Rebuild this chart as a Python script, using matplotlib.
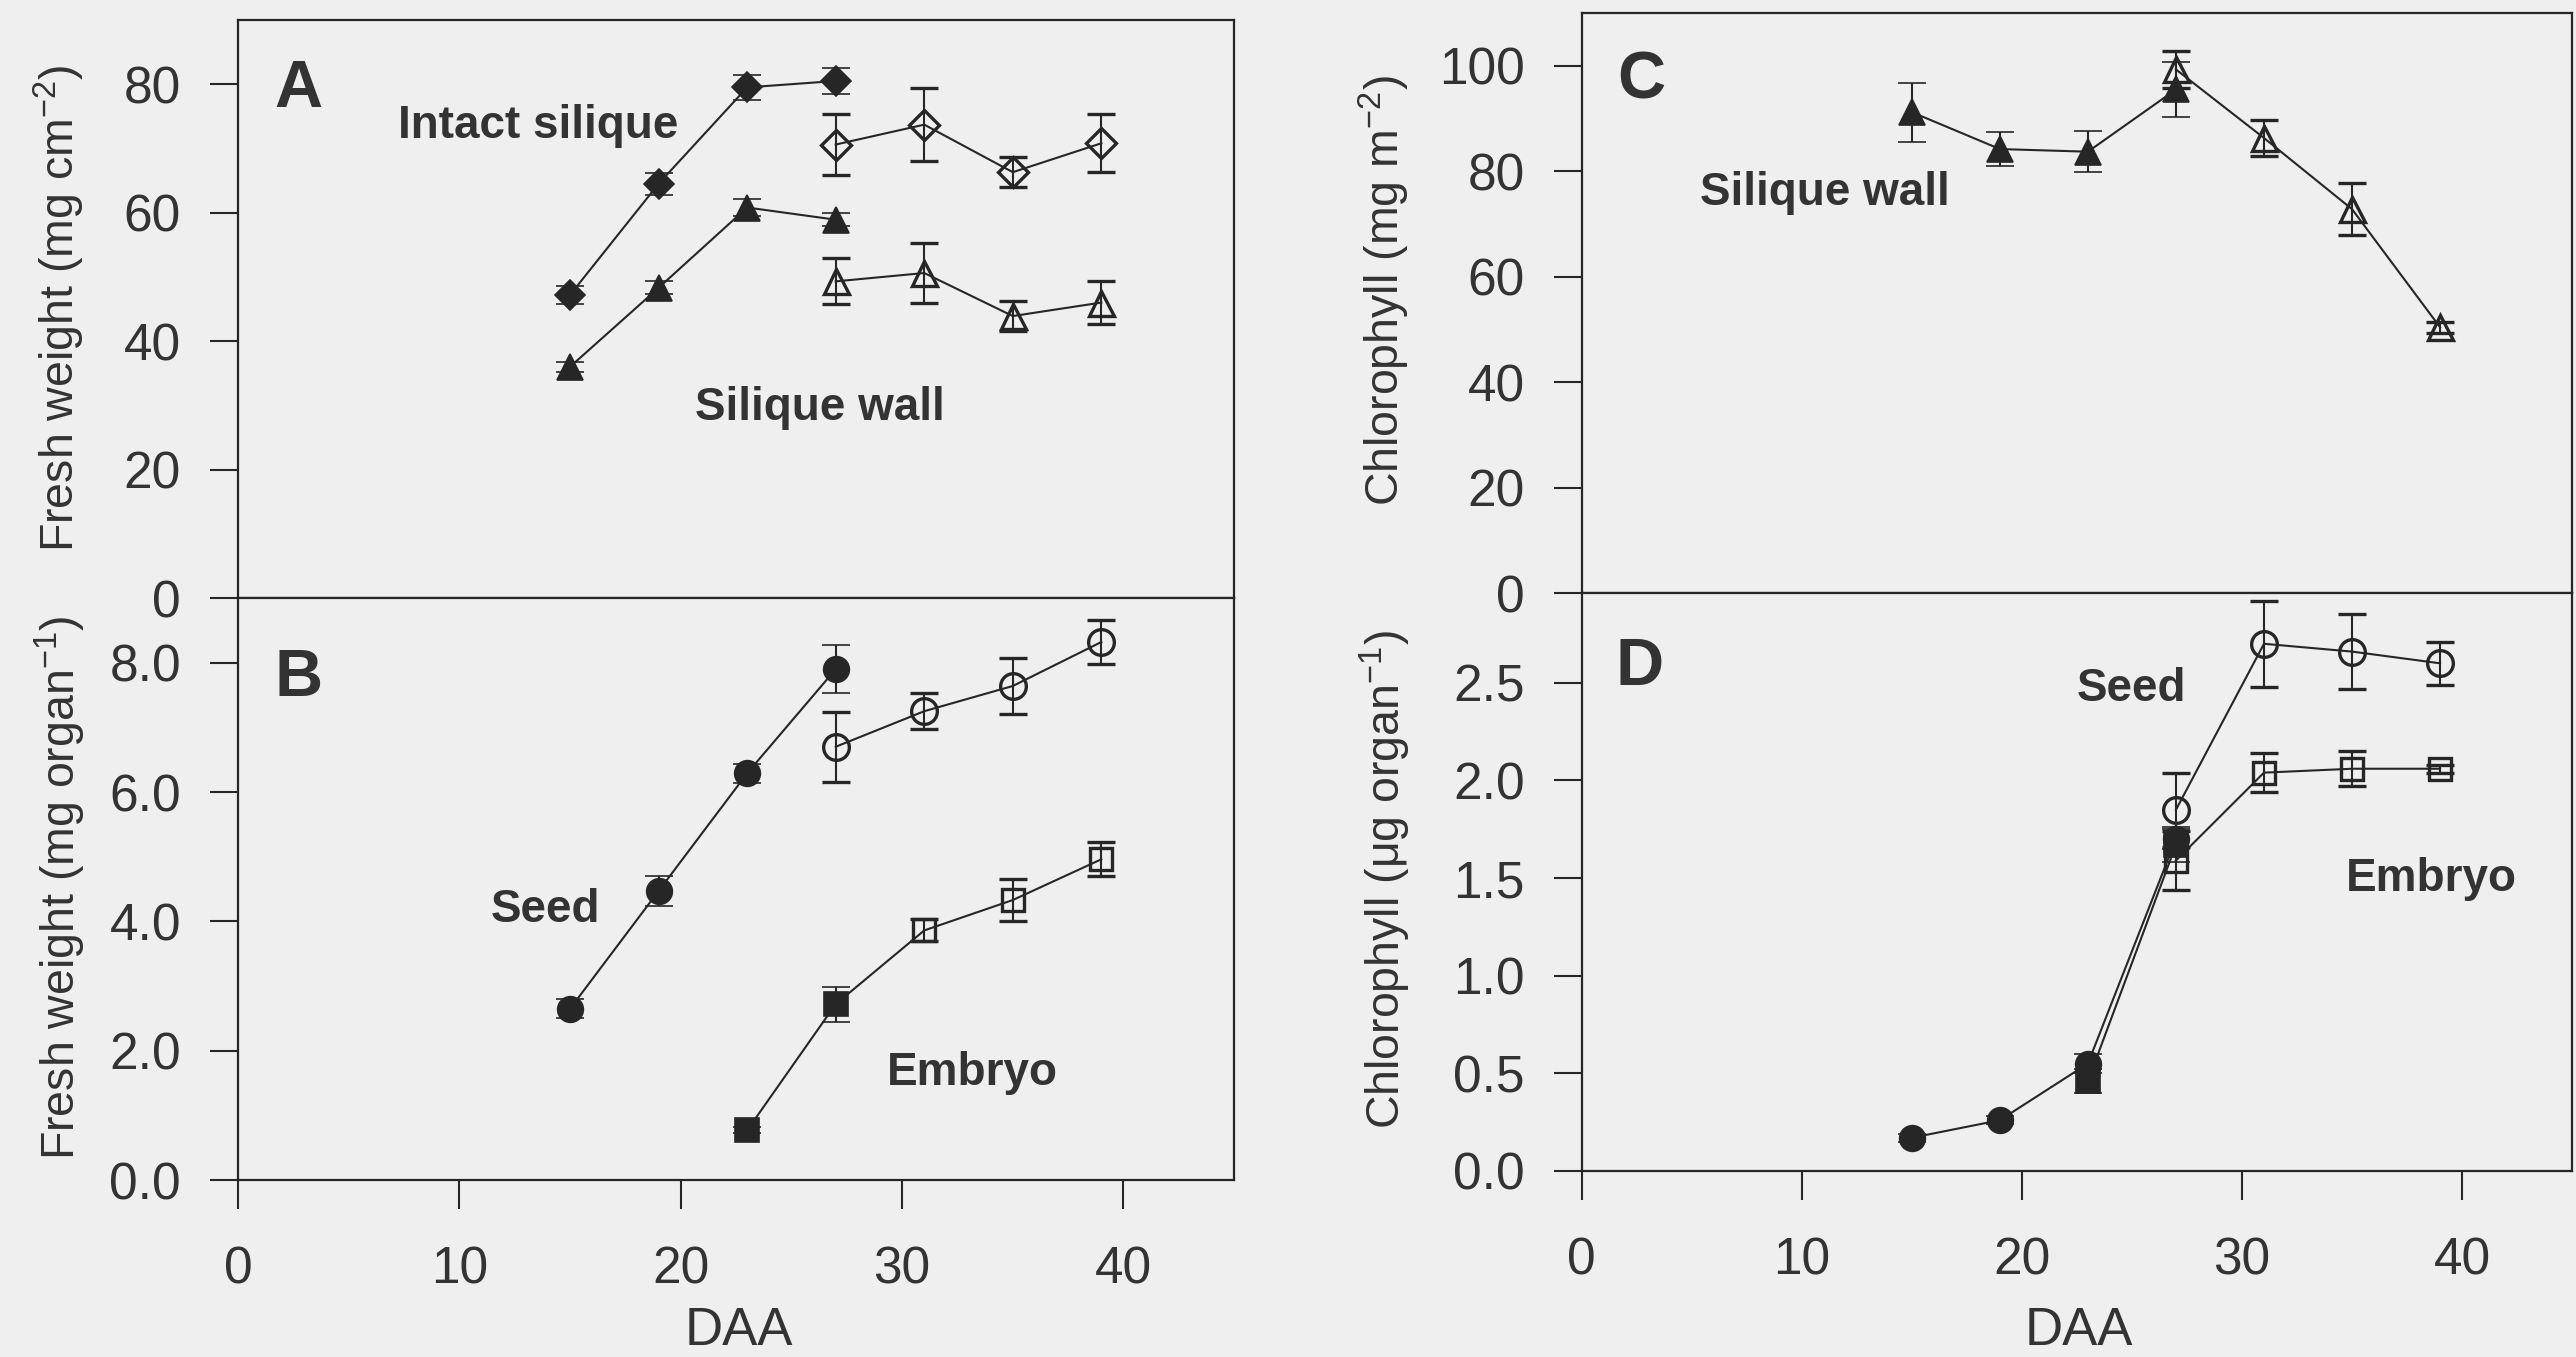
import matplotlib
matplotlib.use('Agg')
import matplotlib.pyplot as plt

plt.rcParams['font.family'] = ['Liberation Sans', 'DejaVu Sans']
plt.rcParams['mathtext.fontset'] = 'custom'
plt.rcParams['mathtext.rm'] = 'Liberation Sans'
plt.rcParams['mathtext.it'] = 'Liberation Sans:italic'
plt.rcParams['mathtext.bf'] = 'Liberation Sans:bold'

BG = '#efefef'
INK = '#262626'
TXT = '#333333'

# ---------------- data ----------------
# Panel A: fresh weight (mg cm-2)
a_int_fill_x = [15, 19, 23, 27]
a_int_fill_y = [47.2, 64.5, 79.5, 80.5]
a_int_fill_e = [1.4, 1.7, 2.0, 2.0]
a_int_open_x = [27, 31, 35, 39]
a_int_open_y = [70.6, 73.7, 66.3, 70.8]
a_int_open_e = [4.7, 5.7, 2.3, 4.5]
a_wall_fill_x = [15, 19, 23, 27]
a_wall_fill_y = [36.0, 48.3, 60.8, 58.9]
a_wall_fill_e = [0.8, 1.0, 1.3, 1.0]
a_wall_open_x = [27, 31, 35, 39]
a_wall_open_y = [49.3, 50.6, 43.9, 46.0]
a_wall_open_e = [3.6, 4.6, 2.3, 3.3]

# Panel B: fresh weight (mg organ-1)
b_seed_fill_x = [15, 19, 23, 27]
b_seed_fill_y = [2.65, 4.47, 6.29, 7.90]
b_seed_fill_e = [0.15, 0.23, 0.15, 0.37]
b_seed_open_x = [27, 31, 35, 39]
b_seed_open_y = [6.70, 7.25, 7.64, 8.32]
b_seed_open_e = [0.54, 0.28, 0.43, 0.34]
b_emb_fill_x = [23, 27]
b_emb_fill_y = [0.77, 2.72]
b_emb_fill_e = [0.05, 0.27]
b_emb_open_x = [31, 35, 39]
b_emb_open_y = [3.86, 4.33, 4.96]
b_emb_open_e = [0.17, 0.33, 0.26]

# Panel C: chlorophyll (mg m-2), silique wall
c_fill_x = [15, 19, 23, 27]
c_fill_y = [91.2, 84.2, 83.7, 95.5]
c_fill_e = [5.6, 3.3, 3.9, 5.3]
c_open_x = [27, 31, 35, 39]
c_open_y = [99.3, 86.3, 72.8, 50.4]
c_open_e = [3.5, 3.4, 4.9, 1.0]

# Panel D: chlorophyll (ug organ-1)
d_seed_fill_x = [15, 19, 23, 27]
d_seed_fill_y = [0.17, 0.26, 0.55, 1.70]
d_seed_fill_e = [0.02, 0.02, 0.05, 0.05]
d_seed_open_x = [27, 31, 35, 39]
d_seed_open_y = [1.85, 2.70, 2.66, 2.60]
d_seed_open_e = [0.19, 0.22, 0.19, 0.11]
d_emb_fill_x = [23, 27]
d_emb_fill_y = [0.46, 1.67]
d_emb_fill_e = [0.06, 0.09]
d_emb_open_x = [27, 31, 35, 39]
d_emb_open_y = [1.59, 2.04, 2.06, 2.06]
d_emb_open_e = [0.15, 0.10, 0.09, 0.02]

x_ticks = [0, 10, 20, 30, 40]
x_ticklabels = ['0', '10', '20', '30', '40']
a_yticks = [0, 20, 40, 60, 80]
a_yticklabels = ['0', '20', '40', '60', '80']
b_yticks = [0, 2, 4, 6, 8]
b_yticklabels = ['0.0', '2.0', '4.0', '6.0', '8.0']
c_yticks = [0, 20, 40, 60, 80, 100]
c_yticklabels = ['0', '20', '40', '60', '80', '100']
d_yticks = [0, 0.5, 1.0, 1.5, 2.0, 2.5]
d_yticklabels = ['0.0', '0.5', '1.0', '1.5', '2.0', '2.5']

# ---------------- figure ----------------
fig = plt.figure(figsize=(25.76, 13.57), dpi=100, facecolor=BG)

axA = fig.add_axes([0.0924, 0.5593, 0.3867, 0.4260])
axB = fig.add_axes([0.0924, 0.1304, 0.3867, 0.4289])
axC = fig.add_axes([0.6140, 0.5630, 0.3845, 0.4274])
axD = fig.add_axes([0.6140, 0.1371, 0.3845, 0.4259])

TICK_FS = 37


def style(ax, ylim, yticks, yticklabels, show_x):
    ax.set_facecolor(BG)
    ax.set_xlim(0, 45)
    ax.set_ylim(*ylim)
    for s in ax.spines.values():
        s.set_linewidth(1.6)
        s.set_color(INK)
    ax.set_yticks(yticks)
    ax.set_yticklabels(yticklabels)
    ax.tick_params(axis='y', direction='out', length=20, width=1.5,
                   color=INK, pad=21, labelsize=TICK_FS, labelcolor=TXT)
    ax.set_xticks(x_ticks)
    if show_x:
        ax.set_xticklabels(x_ticklabels)
        ax.tick_params(axis='x', direction='out', length=21, width=1.5,
                       color=INK, pad=26, labelsize=TICK_FS, labelcolor=TXT)
    else:
        ax.tick_params(axis='x', bottom=False, labelbottom=False)


style(axA, (0, 90), a_yticks, a_yticklabels, False)
style(axB, (0, 9), b_yticks, b_yticklabels, True)
style(axC, (0, 110), c_yticks, c_yticklabels, False)
style(axD, (0, 2.96), d_yticks, d_yticklabels, True)


def series(ax, x, y, e, marker, filled, ms, line=True):
    ax.errorbar(x, y, yerr=e, fmt=marker + ('-' if line else ''),
                color=INK, lw=1.5, ms=ms,
                mfc=INK if filled else 'none', mec=INK,
                mew=1.2 if filled else 2.4,
                elinewidth=1.5, capsize=10, capthick=1.6, zorder=3)


# Panel A
series(axA, a_int_fill_x, a_int_fill_y, a_int_fill_e, 'D', True, 15.5)
series(axA, a_int_open_x, a_int_open_y, a_int_open_e, 'D', False, 15)
series(axA, a_wall_fill_x, a_wall_fill_y, a_wall_fill_e, '^', True, 19)
series(axA, a_wall_open_x, a_wall_open_y, a_wall_open_e, '^', False, 18)

# Panel B
series(axB, b_seed_fill_x, b_seed_fill_y, b_seed_fill_e, 'o', True, 18.5)
series(axB, b_seed_open_x, b_seed_open_y, b_seed_open_e, 'o', False, 18.5)
axB.plot(b_emb_fill_x + b_emb_open_x, b_emb_fill_y + b_emb_open_y,
         '-', color=INK, lw=1.5, zorder=2)
series(axB, b_emb_fill_x, b_emb_fill_y, b_emb_fill_e, 's', True, 17, line=False)
series(axB, b_emb_open_x, b_emb_open_y, b_emb_open_e, 's', False, 16, line=False)

# Panel C
series(axC, c_fill_x, c_fill_y, c_fill_e, '^', True, 19)
series(axC, c_open_x, c_open_y, c_open_e, '^', False, 18)

# Panel D
series(axD, d_seed_fill_x, d_seed_fill_y, d_seed_fill_e, 'o', True, 18.5)
series(axD, d_emb_fill_x, d_emb_fill_y, d_emb_fill_e, 's', True, 17)
series(axD, d_seed_open_x, d_seed_open_y, d_seed_open_e, 'o', False, 18.5)
series(axD, d_emb_open_x, d_emb_open_y, d_emb_open_e, 's', False, 15.5)

# Panel letters and annotations
LET_FS = 48
ANN_FS = 33
for ax, lab, px, py in [(axA, 'A', 0.036, 0.850), (axB, 'B', 0.037, 0.832),
                        (axC, 'C', 0.036, 0.853), (axD, 'D', 0.034, 0.840)]:
    ax.text(px, py, lab, transform=ax.transAxes, fontsize=LET_FS,
            fontweight='bold', color=TXT, ha='left', va='baseline')

for ax, lab, px, py in [(axA, 'Intact silique', 0.161, 0.795),
                        (axA, 'Silique wall', 0.459, 0.308),
                        (axB, 'Seed', 0.254, 0.443),
                        (axB, 'Embryo', 0.651, 0.164),
                        (axC, 'Silique wall', 0.119, 0.669),
                        (axD, 'Seed', 0.4995, 0.814),
                        (axD, 'Embryo', 0.7715, 0.485)]:
    ax.text(px, py, lab, transform=ax.transAxes, fontsize=ANN_FS,
            fontweight='bold', color=TXT, ha='left', va='baseline')

# Axis labels
YL_FS = 33.5
fig.text(0.0229, 0.773, r'Fresh weight (mg cm$^{-2}$)', rotation=90,
         ha='center', va='center', fontsize=YL_FS, color=TXT)
fig.text(0.0233, 0.3456, r'Fresh weight (mg organ$^{-1}$)', rotation=90,
         ha='center', va='center', fontsize=YL_FS, color=TXT)
fig.text(0.5373, 0.786, r'Chlorophyll (mg m$^{-2}$)', rotation=90,
         ha='center', va='center', fontsize=YL_FS, color=TXT)
fig.text(0.5377, 0.3515, 'Chlorophyll (\u03bcg organ$^{-1}$)', rotation=90,
         ha='center', va='center', fontsize=YL_FS, color=TXT)

fig.text(0.2869, 0.0192, 'DAA', ha='center', va='center', fontsize=38, color=TXT)
fig.text(0.8071, 0.0192, 'DAA', ha='center', va='center', fontsize=38, color=TXT)

fig.savefig('out.png', dpi=100, facecolor=BG)
